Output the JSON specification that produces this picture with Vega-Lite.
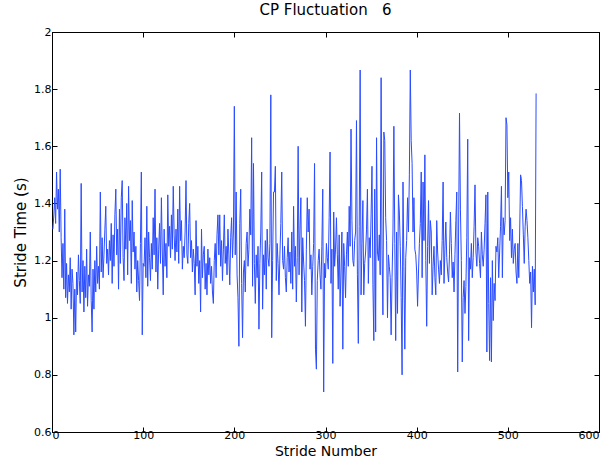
{
  "$schema": "https://vega.github.io/schema/vega-lite/v6.json",
  "width": 547,
  "height": 400,
  "autosize": "none",
  "padding": {"left": 52, "top": 32, "right": 11, "bottom": 34},
  "background": "white",
  "title": {"text": "CP Fluctuation\u00a0\u00a0 6", "fontSize": 15, "font": "DejaVu Sans", "fontWeight": "normal", "offset": 8, "color": "black"},
  "data": {"values": [
{"s":1,"t":1.31},{"s":2,"t":1.36},{"s":3,"t":1.42},{"s":4,"t":1.33},{"s":5,"t":1.51},{"s":6,"t":1.38},{"s":7,"t":1.45},{"s":8,"t":1.30},{"s":9,"t":1.52},{"s":10,"t":1.28},
{"s":11,"t":1.14},{"s":12,"t":1.26},{"s":13,"t":1.10},{"s":14,"t":1.38},{"s":15,"t":1.07},{"s":16,"t":1.19},{"s":17,"t":1.05},{"s":18,"t":1.15},{"s":19,"t":1.09},{"s":20,"t":1.21},
{"s":21,"t":1.03},{"s":22,"t":1.17},{"s":23,"t":1.12},{"s":24,"t":0.94},{"s":25,"t":1.10},{"s":26,"t":0.95},{"s":27,"t":1.16},{"s":28,"t":1.08},{"s":29,"t":1.22},{"s":30,"t":1.13},
{"s":31,"t":1.05},{"s":32,"t":1.47},{"s":33,"t":1.09},{"s":34,"t":1.20},{"s":35,"t":1.02},{"s":36,"t":1.18},{"s":37,"t":1.07},{"s":38,"t":1.24},{"s":39,"t":1.04},{"s":40,"t":1.15},
{"s":41,"t":1.11},{"s":42,"t":1.30},{"s":43,"t":1.06},{"s":44,"t":0.95},{"s":45,"t":1.17},{"s":46,"t":1.03},{"s":47,"t":1.20},{"s":48,"t":1.09},{"s":49,"t":1.25},{"s":50,"t":1.12},
{"s":51,"t":1.18},{"s":52,"t":1.10},{"s":53,"t":1.44},{"s":54,"t":1.16},{"s":55,"t":1.28},{"s":56,"t":1.14},{"s":57,"t":1.22},{"s":58,"t":1.31},{"s":59,"t":1.39},{"s":60,"t":1.19},
{"s":61,"t":1.24},{"s":62,"t":1.15},{"s":63,"t":1.27},{"s":64,"t":1.20},{"s":65,"t":1.33},{"s":66,"t":1.12},{"s":67,"t":1.29},{"s":68,"t":1.18},{"s":69,"t":1.36},{"s":70,"t":1.45},
{"s":71,"t":1.22},{"s":72,"t":1.31},{"s":73,"t":1.10},{"s":74,"t":1.38},{"s":75,"t":1.19},{"s":76,"t":1.42},{"s":77,"t":1.48},{"s":78,"t":1.21},{"s":79,"t":1.13},{"s":80,"t":1.35},
{"s":81,"t":1.24},{"s":82,"t":1.40},{"s":83,"t":1.15},{"s":84,"t":1.46},{"s":85,"t":1.27},{"s":86,"t":1.34},{"s":87,"t":1.12},{"s":88,"t":1.41},{"s":89,"t":1.23},{"s":90,"t":1.30},
{"s":91,"t":1.17},{"s":92,"t":1.25},{"s":93,"t":1.09},{"s":94,"t":1.20},{"s":95,"t":1.13},{"s":96,"t":1.06},{"s":97,"t":1.26},{"s":98,"t":1.51},{"s":99,"t":0.94},{"s":100,"t":1.19},
{"s":101,"t":1.18},{"s":102,"t":1.28},{"s":103,"t":1.14},{"s":104,"t":1.39},{"s":105,"t":1.11},{"s":106,"t":1.30},{"s":107,"t":1.21},{"s":108,"t":1.13},{"s":109,"t":1.26},{"s":110,"t":1.17},
{"s":111,"t":1.35},{"s":112,"t":1.22},{"s":113,"t":1.45},{"s":114,"t":1.16},{"s":115,"t":1.28},{"s":116,"t":1.10},{"s":117,"t":1.24},{"s":118,"t":1.33},{"s":119,"t":1.19},{"s":120,"t":1.42},
{"s":121,"t":1.23},{"s":122,"t":1.08},{"s":123,"t":1.31},{"s":124,"t":1.18},{"s":125,"t":1.26},{"s":126,"t":1.14},{"s":127,"t":1.43},{"s":128,"t":1.25},{"s":129,"t":1.32},{"s":130,"t":1.21},
{"s":131,"t":1.36},{"s":132,"t":1.24},{"s":133,"t":1.46},{"s":134,"t":1.29},{"s":135,"t":1.20},{"s":136,"t":1.31},{"s":137,"t":1.23},{"s":138,"t":1.38},{"s":139,"t":1.19},{"s":140,"t":1.46},
{"s":141,"t":1.27},{"s":142,"t":1.34},{"s":143,"t":1.17},{"s":144,"t":1.25},{"s":145,"t":1.21},{"s":146,"t":1.30},{"s":147,"t":1.48},{"s":148,"t":1.22},{"s":149,"t":1.19},{"s":150,"t":1.33},
{"s":151,"t":1.40},{"s":152,"t":1.21},{"s":153,"t":1.27},{"s":154,"t":1.16},{"s":155,"t":1.24},{"s":156,"t":1.19},{"s":157,"t":1.08},{"s":158,"t":1.34},{"s":159,"t":1.18},{"s":160,"t":1.25},
{"s":161,"t":1.12},{"s":162,"t":1.20},{"s":163,"t":1.02},{"s":164,"t":1.31},{"s":165,"t":1.14},{"s":166,"t":1.22},{"s":167,"t":1.25},{"s":168,"t":1.10},{"s":169,"t":1.19},{"s":170,"t":1.08},
{"s":171,"t":1.24},{"s":172,"t":1.15},{"s":173,"t":1.21},{"s":174,"t":1.12},{"s":175,"t":1.18},{"s":176,"t":1.09},{"s":177,"t":1.05},{"s":178,"t":1.20},{"s":179,"t":1.26},{"s":180,"t":1.14},
{"s":181,"t":1.29},{"s":182,"t":1.36},{"s":183,"t":1.22},{"s":184,"t":1.36},{"s":185,"t":1.18},{"s":186,"t":1.27},{"s":187,"t":1.13},{"s":188,"t":1.24},{"s":189,"t":1.36},{"s":190,"t":1.19},
{"s":191,"t":1.25},{"s":192,"t":1.15},{"s":193,"t":1.31},{"s":194,"t":1.22},{"s":195,"t":1.115},{"s":196,"t":1.28},{"s":197,"t":1.35},{"s":198,"t":1.21},{"s":199,"t":1.30},{"s":200,"t":1.74},
{"s":201,"t":1.22},{"s":202,"t":1.44},{"s":203,"t":1.15},{"s":204,"t":1.07},{"s":205,"t":0.90},{"s":206,"t":1.33},{"s":207,"t":1.45},{"s":208,"t":1.12},{"s":209,"t":0.93},{"s":210,"t":1.16},
{"s":211,"t":1.20},{"s":212,"t":1.09},{"s":213,"t":1.26},{"s":214,"t":1.30},{"s":215,"t":1.18},{"s":216,"t":1.24},{"s":217,"t":1.38},{"s":218,"t":1.29},{"s":219,"t":1.63},{"s":220,"t":1.11},
{"s":221,"t":1.54},{"s":222,"t":1.19},{"s":223,"t":1.05},{"s":224,"t":1.22},{"s":225,"t":1.14},{"s":226,"t":1.25},{"s":227,"t":0.96},{"s":228,"t":1.19},{"s":229,"t":1.30},{"s":230,"t":1.51},
{"s":231,"t":1.03},{"s":232,"t":1.22},{"s":233,"t":1.15},{"s":234,"t":1.27},{"s":235,"t":1.10},{"s":236,"t":1.31},{"s":237,"t":1.21},{"s":238,"t":1.18},{"s":239,"t":1.26},{"s":240,"t":1.78},
{"s":241,"t":0.93},{"s":242,"t":1.20},{"s":243,"t":1.44},{"s":244,"t":1.44},{"s":245,"t":1.53},{"s":246,"t":1.13},{"s":247,"t":1.26},{"s":248,"t":1.19},{"s":249,"t":1.08},{"s":250,"t":1.22},
{"s":251,"t":1.33},{"s":252,"t":1.51},{"s":253,"t":1.20},{"s":254,"t":1.17},{"s":255,"t":1.25},{"s":256,"t":1.14},{"s":257,"t":1.09},{"s":258,"t":1.21},{"s":259,"t":1.28},{"s":260,"t":1.16},
{"s":261,"t":1.23},{"s":262,"t":1.12},{"s":263,"t":1.30},{"s":264,"t":1.10},{"s":265,"t":1.39},{"s":266,"t":1.18},{"s":267,"t":1.25},{"s":268,"t":1.055},{"s":269,"t":1.21},{"s":270,"t":1.60},
{"s":271,"t":1.15},{"s":272,"t":1.31},{"s":273,"t":1.42},{"s":274,"t":1.02},{"s":275,"t":1.28},{"s":276,"t":1.195},{"s":277,"t":1.13},{"s":278,"t":0.97},{"s":279,"t":1.24},{"s":280,"t":1.42},
{"s":281,"t":1.30},{"s":282,"t":1.38},{"s":283,"t":1.17},{"s":284,"t":1.22},{"s":285,"t":1.08},{"s":286,"t":1.18},{"s":287,"t":1.26},{"s":288,"t":1.54},{"s":289,"t":0.89},{"s":290,"t":0.82},
{"s":291,"t":1.13},{"s":292,"t":1.20},{"s":293,"t":1.24},{"s":294,"t":1.15},{"s":295,"t":1.10},{"s":296,"t":1.25},{"s":297,"t":1.45},{"s":298,"t":0.74},{"s":299,"t":1.19},{"s":300,"t":1.14},
{"s":301,"t":1.26},{"s":302,"t":1.21},{"s":303,"t":1.17},{"s":304,"t":1.35},{"s":305,"t":1.58},{"s":306,"t":1.12},{"s":307,"t":1.24},{"s":308,"t":0.84},{"s":309,"t":1.37},{"s":310,"t":1.18},
{"s":311,"t":1.24},{"s":312,"t":1.35},{"s":313,"t":1.22},{"s":314,"t":1.10},{"s":315,"t":1.29},{"s":316,"t":1.04},{"s":317,"t":1.16},{"s":318,"t":1.30},{"s":319,"t":0.89},{"s":320,"t":1.26},
{"s":321,"t":1.18},{"s":322,"t":1.07},{"s":323,"t":1.22},{"s":324,"t":1.30},{"s":325,"t":1.18},{"s":326,"t":1.39},{"s":327,"t":1.25},{"s":328,"t":1.66},{"s":329,"t":1.34},{"s":330,"t":1.20},
{"s":331,"t":1.18},{"s":332,"t":1.27},{"s":333,"t":1.30},{"s":334,"t":1.69},{"s":335,"t":1.15},{"s":336,"t":0.91},{"s":337,"t":1.32},{"s":338,"t":1.867},{"s":339,"t":1.08},{"s":340,"t":1.26},
{"s":341,"t":1.41},{"s":342,"t":1.08},{"s":343,"t":1.19},{"s":344,"t":1.23},{"s":345,"t":1.31},{"s":346,"t":1.45},{"s":347,"t":1.12},{"s":348,"t":1.28},{"s":349,"t":1.21},{"s":350,"t":1.36},
{"s":351,"t":1.53},{"s":352,"t":1.115},{"s":353,"t":0.92},{"s":354,"t":1.45},{"s":355,"t":0.95},{"s":356,"t":1.63},{"s":357,"t":1.23},{"s":358,"t":1.20},{"s":359,"t":1.29},{"s":360,"t":1.15},
{"s":361,"t":1.84},{"s":362,"t":1.24},{"s":363,"t":1.01},{"s":364,"t":1.65},{"s":365,"t":1.62},{"s":366,"t":1.35},{"s":367,"t":1.27},{"s":368,"t":1.00},{"s":369,"t":1.22},{"s":370,"t":1.18},
{"s":371,"t":1.14},{"s":372,"t":0.94},{"s":373,"t":1.14},{"s":374,"t":1.30},{"s":375,"t":1.67},{"s":376,"t":1.26},{"s":377,"t":0.92},{"s":378,"t":1.30},{"s":379,"t":1.015},{"s":380,"t":1.43},
{"s":381,"t":1.37},{"s":382,"t":1.25},{"s":383,"t":1.07},{"s":384,"t":0.80},{"s":385,"t":1.475},{"s":386,"t":1.18},{"s":387,"t":0.89},{"s":388,"t":1.21},{"s":389,"t":1.27},{"s":390,"t":1.42},
{"s":391,"t":1.30},{"s":392,"t":1.50},{"s":393,"t":1.867},{"s":394,"t":1.62},{"s":395,"t":1.54},{"s":396,"t":1.30},{"s":397,"t":1.42},{"s":398,"t":1.24},{"s":399,"t":1.22},{"s":400,"t":1.16},
{"s":401,"t":1.04},{"s":402,"t":1.16},{"s":403,"t":1.26},{"s":404,"t":1.33},{"s":405,"t":1.51},{"s":406,"t":1.14},{"s":407,"t":1.475},{"s":408,"t":1.27},{"s":409,"t":1.57},{"s":410,"t":1.20},
{"s":411,"t":0.97},{"s":412,"t":1.25},{"s":413,"t":1.41},{"s":414,"t":1.19},{"s":415,"t":1.34},{"s":416,"t":1.30},{"s":417,"t":1.08},{"s":418,"t":1.18},{"s":419,"t":1.25},{"s":420,"t":1.14},
{"s":421,"t":1.08},{"s":422,"t":1.34},{"s":423,"t":1.23},{"s":424,"t":1.17},{"s":425,"t":1.12},{"s":426,"t":1.20},{"s":427,"t":1.15},{"s":428,"t":1.27},{"s":429,"t":1.475},{"s":430,"t":1.12},
{"s":431,"t":1.24},{"s":432,"t":1.335},{"s":433,"t":1.21},{"s":434,"t":1.16},{"s":435,"t":1.125},{"s":436,"t":1.22},{"s":437,"t":1.37},{"s":438,"t":1.26},{"s":439,"t":1.14},{"s":440,"t":1.195},
{"s":441,"t":1.09},{"s":442,"t":1.22},{"s":443,"t":1.34},{"s":444,"t":1.44},{"s":445,"t":0.81},{"s":446,"t":1.30},{"s":447,"t":1.716},{"s":448,"t":1.38},{"s":449,"t":1.20},{"s":450,"t":0.845},
{"s":451,"t":1.07},{"s":452,"t":1.13},{"s":453,"t":1.015},{"s":454,"t":1.11},{"s":455,"t":1.28},{"s":456,"t":1.625},{"s":457,"t":0.92},{"s":458,"t":1.21},{"s":459,"t":1.17},{"s":460,"t":1.26},
{"s":461,"t":1.14},{"s":462,"t":1.21},{"s":463,"t":1.32},{"s":464,"t":1.465},{"s":465,"t":1.23},{"s":466,"t":1.18},{"s":467,"t":1.28},{"s":468,"t":1.25},{"s":469,"t":1.19},{"s":470,"t":1.14},
{"s":471,"t":1.30},{"s":472,"t":1.22},{"s":473,"t":1.18},{"s":474,"t":1.24},{"s":475,"t":1.33},{"s":476,"t":1.43},{"s":477,"t":0.88},{"s":478,"t":1.44},{"s":479,"t":1.05},{"s":480,"t":0.85},
{"s":481,"t":1.14},{"s":482,"t":0.845},{"s":483,"t":1.20},{"s":484,"t":0.99},{"s":485,"t":1.12},{"s":486,"t":1.06},{"s":487,"t":1.25},{"s":488,"t":1.23},{"s":489,"t":1.28},{"s":490,"t":1.14},
{"s":491,"t":1.23},{"s":492,"t":1.32},{"s":493,"t":1.46},{"s":494,"t":1.14},{"s":495,"t":1.35},{"s":496,"t":1.29},{"s":497,"t":1.34},{"s":498,"t":1.70},{"s":499,"t":1.675},{"s":500,"t":1.42},
{"s":501,"t":1.51},{"s":502,"t":1.27},{"s":503,"t":1.35},{"s":504,"t":1.21},{"s":505,"t":1.31},{"s":506,"t":1.19},{"s":507,"t":1.24},{"s":508,"t":1.26},{"s":509,"t":1.16},{"s":510,"t":1.12},
{"s":511,"t":1.26},{"s":512,"t":1.14},{"s":513,"t":1.30},{"s":514,"t":1.50},{"s":515,"t":1.48},{"s":516,"t":1.39},{"s":517,"t":1.29},{"s":518,"t":1.19},{"s":519,"t":1.32},{"s":520,"t":1.38},
{"s":521,"t":1.34},{"s":522,"t":1.28},{"s":523,"t":1.20},{"s":524,"t":1.12},{"s":525,"t":1.16},{"s":526,"t":0.965},{"s":527,"t":1.18},{"s":528,"t":1.09},{"s":529,"t":1.17},{"s":530,"t":1.045},
{"s":531,"t":1.785}
  ]},
  "layer": [
    {
      "mark": {"type": "line", "color": "#2a4cff", "strokeWidth": 1, "clip": true},
      "encoding": {
        "x": {"field": "s", "type": "quantitative", "scale": {"domain": [0, 600], "nice": false},
          "axis": {"values": [0,100,200,300,400,500,600], "title": "Stride Number", "orient": "bottom"}},
        "y": {"field": "t", "type": "quantitative", "scale": {"domain": [0.6, 2], "nice": false, "zero": false},
          "axis": {"values": [0.6,0.8,1,1.2,1.4,1.6,1.8,2], "format": "~g", "title": "Stride Time (s)", "orient": "left"}}
      }
    },
    {
      "mark": {"type": "line", "opacity": 0},
      "encoding": {
        "x": {"field": "s", "type": "quantitative", "scale": {"domain": [0, 600], "nice": false},
          "axis": {"values": [0,100,200,300,400,500,600], "title": null, "labels": false, "orient": "top"}},
        "y": {"field": "t", "type": "quantitative", "scale": {"domain": [0.6, 2], "nice": false, "zero": false},
          "axis": {"values": [0.6,0.8,1,1.2,1.4,1.6,1.8,2], "title": null, "labels": false, "orient": "right"}}
      }
    }
  ],
  "resolve": {"axis": {"x": "independent", "y": "independent"}},
  "config": {
    "view": {"stroke": "black", "strokeWidth": 1},
    "axis": {
      "grid": false,
      "domainColor": "black",
      "tickColor": "black",
      "tickSize": -5,
      "labelColor": "black",
      "labelFont": "DejaVu Sans",
      "labelFontSize": 11,
      "titleFont": "DejaVu Sans",
      "titleFontSize": 15,
      "titleFontWeight": "normal",
      "titleColor": "black"
    },
    "axisX": {"labelPadding": 2, "titlePadding": 4, "titleFontSize": 14},
    "axisY": {"labelPadding": 6, "titlePadding": 5}
  }
}
